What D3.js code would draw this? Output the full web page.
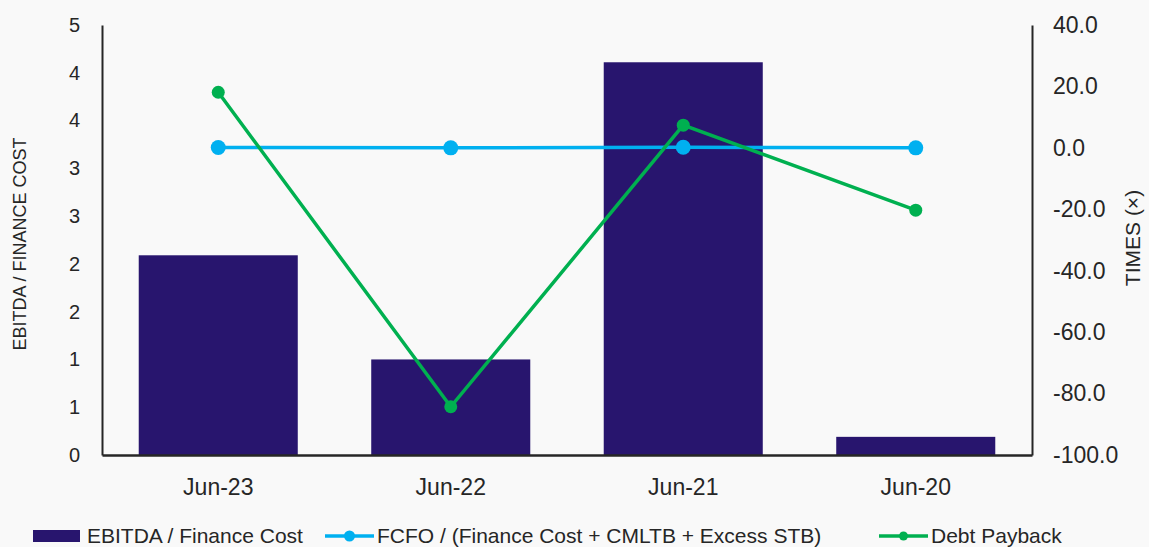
<!DOCTYPE html>
<html>
<head>
<meta charset="utf-8">
<script src="https://cdn.jsdelivr.net/npm/d3@7"></script>
<style>
    body { margin: 0; background: #f9f9f9; }
    .plotText { font-family: "Liberation Sans", Arial, sans-serif; fill: #262626; }
</style>
</head>
<body>
<div id="chart"></div>
<script>
    // chart data
    let categories = ["Jun-23", "Jun-22", "Jun-21", "Jun-20"];
    let ebitdaFinanceCost = [2.09, 1.0, 4.11, 0.19];
    let fcfo = [0.1, 0.0, 0.2, 0.0];
    let debtPayback = [18.1, -84.3, 7.4, -20.3];
    let leftTicks = [0, 0.5, 1, 1.5, 2, 2.5, 3, 3.5, 4, 4.5];
    let rightTicks = [40, 20, 0, -20, -40, -60, -80, -100];

    let W = 1149, H = 547;
    let margin = {top: 25, right: 117, bottom: 92, left: 102},
    width = W - margin.left - margin.right,
    height = H - margin.top - margin.bottom;

    let font = "Liberation Sans, Arial, sans-serif";

    let svg = d3.select("#chart")
        .append("svg")
        .attr("width", W)
        .attr("height", H)
        .style("background", "#f9f9f9");

    let g = svg.append("g")
        .attr("transform", `translate(${margin.left}, ${margin.top})`);

    // x axis scale
    let x = d3.scaleBand()
        .range([0, width])
        .domain(categories)
        .paddingInner(0.316)
        .paddingOuter(0.158);

    // y axis scales
    let y = d3.scaleLinear().range([height, 0]).domain([0, 4.5]);
    let y2 = d3.scaleLinear().range([height, 0]).domain([-100, 40]);

    // bars
    g.selectAll(".bar")
        .data(categories)
        .join("rect")
        .attr("class", "bar")
        .attr("x", d => x(d))
        .attr("width", x.bandwidth())
        .attr("y", (d, i) => y(ebitdaFinanceCost[i]))
        .attr("height", (d, i) => height - y(ebitdaFinanceCost[i]))
        .attr("fill", "#28156e");

    // left axis (Excel-style rounded labels)
    g.append("g")
        .call(d3.axisLeft(y).tickValues(leftTicks).tickSize(0).tickPadding(22)
            .tickFormat(d => Math.round(d + 1e-9)))
        .call(a => a.select(".domain").attr("stroke", "#262626").attr("stroke-width", 2))
        .call(a => a.selectAll("text").attr("font-size", 20).attr("fill", "#262626")
            .attr("font-family", font));

    // right axis
    g.append("g")
        .attr("transform", `translate(${width}, 0)`)
        .call(d3.axisRight(y2).tickValues(rightTicks).tickSize(0).tickPadding(21)
            .tickFormat(d => d.toFixed(1)))
        .call(a => a.select(".domain").attr("stroke", "#262626").attr("stroke-width", 2))
        .call(a => a.selectAll("text").attr("font-size", 23).attr("fill", "#262626")
            .attr("font-family", font));

    // bottom axis
    g.append("g")
        .attr("transform", `translate(0, ${height})`)
        .call(d3.axisBottom(x).tickSize(0).tickPadding(24))
        .call(a => a.select(".domain").attr("stroke", "#262626").attr("stroke-width", 2.5))
        .call(a => a.selectAll("text").attr("font-size", 23).attr("fill", "#262626")
            .attr("font-family", font));

    // axis titles
    svg.append("text")
        .attr("class", "plotText")
        .attr("text-anchor", "middle")
        .attr("transform", `translate(26, 244) rotate(-90)`)
        .attr("font-size", 18)
        .text("EBITDA / FINANCE COST");

    svg.append("text")
        .attr("class", "plotText")
        .attr("text-anchor", "middle")
        .attr("transform", `translate(1140, 238) rotate(-90)`)
        .attr("font-size", 21)
        .text("TIMES (×)");

    // lines
    let cx = d => x(d) + x.bandwidth() / 2;
    let series = [
        {values: fcfo, color: "#00b0f0", r: 7.5},
        {values: debtPayback, color: "#00b050", r: 6.5}
    ];
    series.forEach(function(s) {
        g.append("path")
            .datum(categories)
            .attr("fill", "none")
            .attr("stroke", s.color)
            .attr("stroke-width", 3.5)
            .attr("d", d3.line().x(d => cx(d)).y((d, i) => y2(s.values[i])));
        g.selectAll(null)
            .data(categories)
            .join("circle")
            .attr("cx", d => cx(d))
            .attr("cy", (d, i) => y2(s.values[i]))
            .attr("r", s.r)
            .attr("fill", s.color);
    });

    // legend
    let legend = svg.append("g").attr("transform", "translate(0, 536)");
    legend.append("rect")
        .attr("x", 33).attr("y", -6).attr("width", 47).attr("height", 12)
        .attr("fill", "#28156e");
    legend.append("text")
        .attr("class", "plotText").attr("x", 87).attr("y", 6.5).attr("font-size", 21)
        .text("EBITDA / Finance Cost");

    let lineLegend = [
        {x: 325, label: "FCFO / (Finance Cost + CMLTB + Excess STB)", color: "#00b0f0", r: 5.5},
        {x: 879, label: "Debt Payback", color: "#00b050", r: 4.5}
    ];
    lineLegend.forEach(function(l) {
        legend.append("line")
            .attr("x1", l.x).attr("x2", l.x + 49).attr("y1", 0).attr("y2", 0)
            .attr("stroke", l.color).attr("stroke-width", 3.5);
        legend.append("circle")
            .attr("cx", l.x + 24.5).attr("cy", 0).attr("r", l.r).attr("fill", l.color);
        legend.append("text")
            .attr("class", "plotText").attr("x", l.x + 52).attr("y", 6.5).attr("font-size", 21)
            .text(l.label);
    });
</script>
</body>
</html>
